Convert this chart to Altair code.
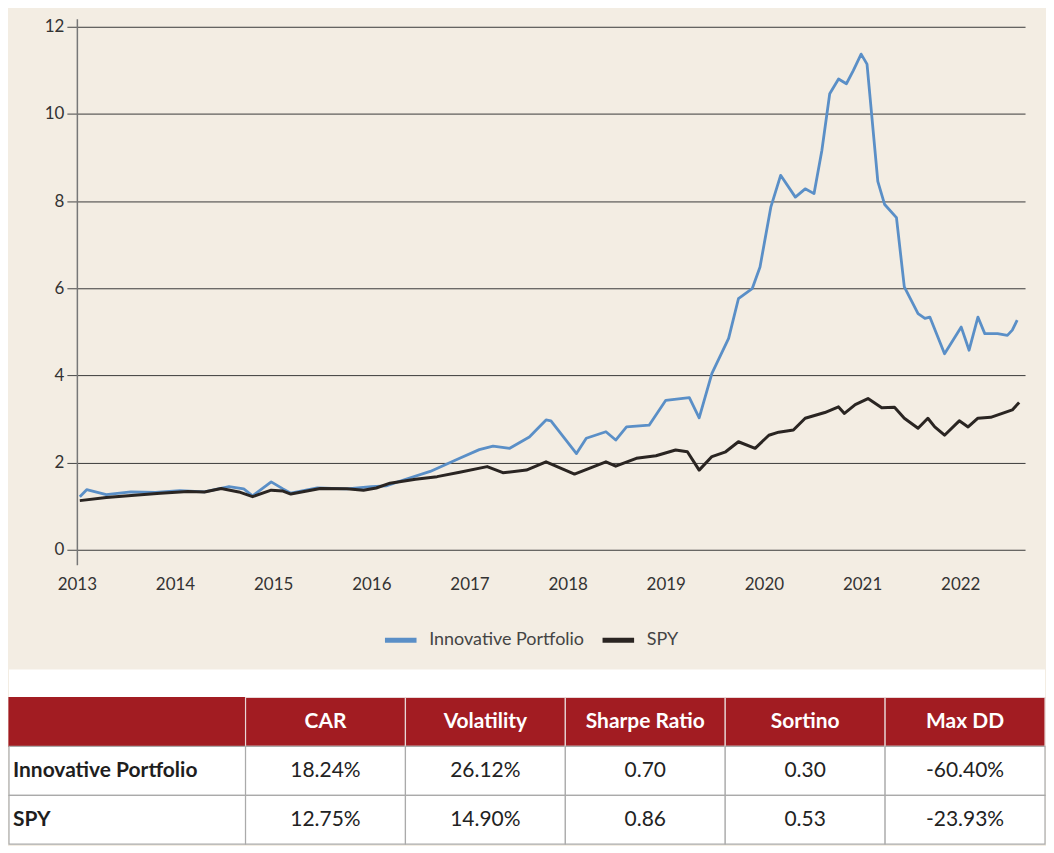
import altair as alt
import pandas as pd

# ---------------- data ----------------
series_names = ["Innovative Portfolio", "SPY"]

port_years = [2013.03, 2013.10, 2013.30, 2013.55, 2013.80, 2014.05, 2014.30, 2014.55, 2014.70, 2014.79,
              2014.98, 2015.10, 2015.18, 2015.45, 2015.75, 2016.00, 2016.15, 2016.35, 2016.60, 2016.90,
              2017.10, 2017.24, 2017.41, 2017.61, 2017.78, 2017.83, 2018.09, 2018.19, 2018.39, 2018.49,
              2018.60, 2018.83, 2019.00, 2019.24, 2019.34, 2019.47, 2019.64, 2019.74, 2019.88, 2019.96,
              2020.07, 2020.17, 2020.32, 2020.42, 2020.51, 2020.59, 2020.67, 2020.76, 2020.84, 2020.91,
              2020.99, 2021.05, 2021.16, 2021.23, 2021.35, 2021.43, 2021.57, 2021.64, 2021.69, 2021.84,
              2022.01, 2022.09, 2022.18, 2022.25, 2022.38, 2022.48, 2022.53, 2022.58]
port_values = [1.22, 1.38, 1.27, 1.33, 1.32, 1.36, 1.33, 1.45, 1.40, 1.24,
               1.56, 1.40, 1.30, 1.42, 1.40, 1.45, 1.47, 1.62, 1.80, 2.10,
               2.30, 2.38, 2.33, 2.59, 2.98, 2.96, 2.21, 2.56, 2.71, 2.52,
               2.82, 2.86, 3.43, 3.49, 3.03, 4.05, 4.85, 5.76, 5.99, 6.49,
               7.86, 8.59, 8.09, 8.28, 8.17, 9.16, 10.46, 10.80, 10.69, 10.99,
               11.37, 11.14, 8.45, 7.92, 7.62, 6.03, 5.42, 5.31, 5.34, 4.50,
               5.11, 4.58, 5.34, 4.96, 4.96, 4.92, 5.04, 5.27]

spy_years = [2013.03, 2013.30, 2013.62, 2013.85, 2014.13, 2014.30, 2014.47, 2014.65, 2014.79, 2014.98,
             2015.10, 2015.18, 2015.48, 2015.75, 2015.92, 2016.05, 2016.19, 2016.45, 2016.67, 2016.90,
             2017.18, 2017.34, 2017.58, 2017.78, 2018.07, 2018.39, 2018.49, 2018.70, 2018.90, 2019.10,
             2019.22, 2019.34, 2019.47, 2019.61, 2019.74, 2019.91, 2020.05, 2020.15, 2020.30, 2020.42,
             2020.62, 2020.76, 2020.82, 2020.93, 2021.06, 2021.20, 2021.33, 2021.43, 2021.57, 2021.67,
             2021.74, 2021.84, 2021.99, 2022.08, 2022.18, 2022.31, 2022.45, 2022.53, 2022.60]
spy_values = [1.13, 1.20, 1.26, 1.30, 1.34, 1.33, 1.41, 1.33, 1.22, 1.37,
              1.35, 1.28, 1.41, 1.40, 1.37, 1.42, 1.53, 1.62, 1.68, 1.78,
              1.91, 1.77, 1.83, 2.02, 1.74, 2.02, 1.92, 2.10, 2.16, 2.29,
              2.25, 1.83, 2.14, 2.25, 2.48, 2.33, 2.63, 2.70, 2.75, 3.02,
              3.15, 3.28, 3.13, 3.33, 3.47, 3.26, 3.27, 3.02, 2.79, 3.02,
              2.82, 2.63, 2.96, 2.82, 3.02, 3.04, 3.15, 3.21, 3.38]

x_ticks = [2013, 2014, 2015, 2016, 2017, 2018, 2019, 2020, 2021, 2022]
y_ticks = [0, 2, 4, 6, 8, 10, 12]

metrics = ["CAR", "Volatility", "Sharpe Ratio", "Sortino", "Max DD"]
portfolio_stats = ["18.24%", "26.12%", "0.70", "0.30", "-60.40%"]
spy_stats = ["12.75%", "14.90%", "0.86", "0.53", "-23.93%"]

# ---------------- styles / layout ----------------
BG = "#f3ede3"
RED = "#a21c22"
FONT = "Lato"
TFONT = "Lato"
LINE_COLORS = ["#5a8fc7", "#2a2522"]

PW, PH = 950, 547          # plot area
LEFT_EXT = 68              # room left of the plot (axis labels / table first column)
RIGHT_END = 970            # right edge of the table / beige panel, plot coords
BEIGE_BOTTOM = 652         # end of beige panel, plot coords
TAB_TOP, TAB_BOTTOM = 680, 827
COL1_END = 169

# ---------------- line chart ----------------
df_line = pd.DataFrame(
    {"year": port_years + spy_years,
     "value": port_values + spy_values,
     "series": [series_names[0]] * len(port_years) + [series_names[1]] * len(spy_years)}
)

x_enc = alt.X("year:Q",
              scale=alt.Scale(domain=[2013, 2022.66], nice=False, zero=False),
              axis=alt.Axis(values=x_ticks, format="d", grid=False, domain=False, ticks=False,
                            tickSize=0, labelPadding=12, labelFontSize=17, labelColor="#333",
                            labelFont=FONT, labelFlush=False, title=None))
y_enc = alt.Y("value:Q",
              scale=alt.Scale(domain=[-0.34, 12.18], nice=False, zero=False),
              axis=alt.Axis(values=y_ticks, grid=True, gridColor="#3a3a3a", gridWidth=1,
                            domain=True, domainColor="#777777", domainWidth=1.5,
                            ticks=True, tickColor="#444444", tickSize=10, tickWidth=1,
                            labelPadding=3, labelFontSize=17, labelColor="#333",
                            labelFont=FONT, title=None))
color_enc = alt.Color("series:N",
                      scale=alt.Scale(domain=series_names, range=LINE_COLORS),
                      legend=alt.Legend(orient="none", legendX=306, legendY=604,
                                        direction="horizontal", title=None,
                                        symbolType="stroke", symbolSize=1000,
                                        symbolStrokeWidth=5, labelFontSize=18,
                                        labelFont=FONT, labelColor="#444",
                                        labelOffset=10, columnPadding=7))

base = alt.Chart(df_line)
blue = base.transform_filter(alt.datum.series == series_names[0]).mark_line(
    strokeWidth=2.8, strokeJoin="round").encode(x=x_enc, y=y_enc, color=color_enc)
black = base.transform_filter(alt.datum.series == series_names[1]).mark_line(
    strokeWidth=3, strokeJoin="round").encode(x=x_enc, y=y_enc, color=color_enc)
lines = alt.layer(blue, black)

one = pd.DataFrame({"k": [0]})
spacer = alt.Chart(one).mark_rect(opacity=0).encode(
    x=alt.value(-LEFT_EXT), x2=alt.value(RIGHT_END), y=alt.value(-10), y2=alt.value(BEIGE_BOTTOM))
white_panel = alt.Chart(one).mark_rect(fill="#ffffff").encode(
    x=alt.value(-LEFT_EXT), x2=alt.value(RIGHT_END), y=alt.value(BEIGE_BOTTOM), y2=alt.value(TAB_BOTTOM))

# ---------------- table ----------------
row_keys = ["h", "p", "s"]
y_tab = alt.Y("row:N", axis=None,
              scale=alt.Scale(domain=row_keys, range=[TAB_TOP, TAB_BOTTOM],
                              paddingInner=0, paddingOuter=0))

left_df = pd.DataFrame({"row": row_keys, "col": ["name"] * 3,
                        "label": ["", series_names[0], series_names[1]]})
right_rows = []
for m, p, s in zip(metrics, portfolio_stats, spy_stats):
    right_rows.append({"row": "h", "metric": m, "label": m})
    right_rows.append({"row": "p", "metric": m, "label": p})
    right_rows.append({"row": "s", "metric": m, "label": s})
right_df = pd.DataFrame(right_rows)

is_head = "datum.row == 'h'"

x_col = alt.X("col:N", axis=None,
              scale=alt.Scale(domain=["name"], range=[-LEFT_EXT, COL1_END],
                              paddingInner=0, paddingOuter=0))
left_cells = alt.Chart(left_df).mark_rect(strokeWidth=1.2).encode(
    x=x_col, y=y_tab,
    fill=alt.condition(is_head, alt.value(RED), alt.value("#ffffff")),
    stroke=alt.condition(is_head, alt.value(RED), alt.value("#aaaaaa")),
)
left_text = alt.Chart(left_df).mark_text(align="left", baseline="middle", font=TFONT,
                                         fontSize=21, fontWeight="bold", color="#1e1e1e").encode(
    x=alt.value(-LEFT_EXT + 4), y=y_tab, text="label:N")

x_met = alt.X("metric:N", axis=None, sort=metrics,
              scale=alt.Scale(domain=metrics, range=[COL1_END, RIGHT_END],
                              paddingInner=0, paddingOuter=0))
right_cells = alt.Chart(right_df).mark_rect(strokeWidth=1.2).encode(
    x=x_met, y=y_tab,
    fill=alt.condition(is_head, alt.value(RED), alt.value("#ffffff")),
    stroke=alt.condition(is_head, alt.value("#e8d6d6"), alt.value("#aaaaaa")),
)
head_text = alt.Chart(right_df).transform_filter(is_head).mark_text(
    align="center", baseline="middle", font=TFONT, fontSize=21, fontWeight="bold",
    color="#ffffff").encode(x=x_met, y=y_tab, text="label:N")
body_text = alt.Chart(right_df).transform_filter("datum.row != 'h'").mark_text(
    align="center", baseline="middle", font=TFONT, fontSize=21,
    color="#222222").encode(x=x_met, y=y_tab, text="label:N")

table_left = alt.layer(left_cells, left_text)
table_right = alt.layer(right_cells, head_text, body_text)

chart = alt.layer(spacer, white_panel, lines, table_left, table_right).resolve_scale(
    x="independent", y="independent"
).properties(width=PW, height=PH, padding=0, background=BG).configure_view(stroke=None)

chart.save("out.html", embed_options={"renderer": "svg", "actions": False})
